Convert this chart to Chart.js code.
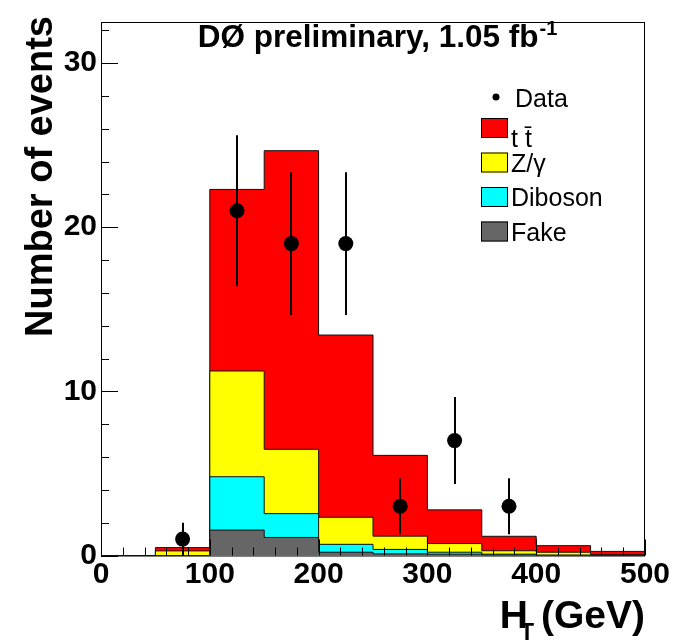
<!DOCTYPE html>
<html>
<head>
<meta charset="utf-8">
<script src="https://cdn.jsdelivr.net/npm/chart.js@4.4.1/dist/chart.umd.min.js"></script>
<style>
  html, body { margin: 0; padding: 0; background: #fff; }
  #wrap { width: 683px; height: 641px; }
</style>
</head>
<body>
<div id="wrap"><canvas id="htChart" width="683" height="641"></canvas></div>
<script>
// ── H_T distribution, 50 GeV bins ─────────────────────────────────────────
const binEdges = [0, 50, 100, 150, 200, 250, 300, 350, 400, 450, 500];

// expected events per bin, per process
const fake    = [0, 0,    1.55,  1.10,  0.20, 0.10, 0.08, 0.03, 0,    0];
const diboson = [0, 0,    3.25,  1.45,  0.48, 0.27, 0.12, 0.05, 0.03, 0.01];
const zgamma  = [0, 0.28, 6.44,  3.92,  1.65, 0.81, 0.53, 0.21, 0.17, 0.04];
const ttbar   = [0, 0.20, 11.06, 18.19, 11.10, 4.92, 2.05, 0.88, 0.40, 0.20];

// observed events (non-empty bins) and their errors
const dataX   = [75, 125, 175, 225, 275, 325, 375];
const dataY   = [1, 21, 19, 19, 3, 7, 3];
const dataErr = [1.0, 4.6, 4.35, 4.35, 1.7, 2.65, 1.7];

const xTickValues = [0, 100, 200, 300, 400, 500];
const yTickValues = [0, 10, 20, 30];

const FONT = "'Liberation Sans', Arial, Helvetica, sans-serif";

// running totals, bottom layer first
function stackUp(layers) {
  const out = [];
  let run = layers[0].map(() => 0);
  layers.forEach(l => { run = run.map((v, i) => v + l[i]); out.push(run); });
  return out;
}
const [cFake, cDib, cZ, cTot] = stackUp([fake, diboson, zgamma, ttbar]);

function stepPoints(vals) {
  const pts = vals.map((v, i) => ({ x: binEdges[i], y: v }));
  pts.push({ x: binEdges[binEdges.length - 1], y: 0 });
  return pts;
}

const histo = (label, vals, color) => ({
  label, data: stepPoints(vals), stepped: true, tension: 0,
  borderColor: '#111', borderWidth: 1, backgroundColor: color, fill: 'origin',
  pointRadius: 0, pointHoverRadius: 0
});

// ── plugins ───────────────────────────────────────────────────────────────

const errorBars = {
  id: 'errorBars',
  beforeDatasetDraw(chart, args) {
    if (args.index !== 0) return;
    const { ctx, scales: { x, y } } = chart;
    ctx.save();
    ctx.strokeStyle = '#000'; ctx.lineWidth = 2;
    dataX.forEach((v, i) => {
      const px = Math.round(x.getPixelForValue(v));
      ctx.beginPath();
      ctx.moveTo(px, y.getPixelForValue(Math.max(0, dataY[i] - dataErr[i])));
      ctx.lineTo(px, y.getPixelForValue(dataY[i] + dataErr[i]));
      ctx.stroke();
    });
    ctx.restore();
  }
};

const frame = {
  id: 'frame',
  afterDatasetsDraw(chart) {
    const { ctx, chartArea: a, scales: { x, y } } = chart;
    ctx.save();
    ctx.strokeStyle = '#000'; ctx.lineWidth = 1;
    ctx.strokeRect(a.left + 0.5, a.top + 0.5, a.right - a.left - 1, a.bottom - a.top);
    ctx.beginPath();
    for (let v = 0; v <= 500; v += 20) {
      const px = Math.round(x.getPixelForValue(v)) + 0.5;
      const len = v % 100 === 0 ? 16 : 8;
      ctx.moveTo(px, a.bottom); ctx.lineTo(px, a.bottom - len);
    }
    for (let v = 0; v <= 32; v += 2) {
      const py = Math.round(y.getPixelForValue(v)) + 0.5;
      const len = v % 10 === 0 ? 17 : 8;
      ctx.moveTo(a.left, py); ctx.lineTo(a.left + len, py);
    }
    ctx.stroke();
    ctx.restore();
  }
};

const decorations = {
  id: 'decorations',
  afterDraw(chart) {
    const { ctx, chartArea: a } = chart;
    const ds = chart.data.datasets;
    ctx.save();
    ctx.fillStyle = '#000';
    ctx.textBaseline = 'alphabetic';

    // title
    const main = 'D\u00D8 preliminary, 1.05 fb', sup = '-1';
    ctx.font = `bold 31.5px ${FONT}`;
    const wMain = ctx.measureText(main).width;
    ctx.font = `bold 20px ${FONT}`;
    const wSup = ctx.measureText(sup).width;
    let tx = 377 - (wMain + wSup) / 2;
    ctx.font = `bold 31.5px ${FONT}`;
    ctx.fillText(main, tx, 47);
    ctx.font = `bold 20px ${FONT}`;
    ctx.fillText(sup, tx + wMain + 1, 35);

    // y title, aligned to the top of the axis
    ctx.save();
    ctx.translate(52, a.top - 6);
    ctx.rotate(-Math.PI / 2);
    ctx.font = `bold 38px ${FONT}`;
    ctx.textAlign = 'right';
    ctx.fillText('Number of events', 0, 0);
    ctx.restore();

    // x title, aligned to the right end of the axis
    ctx.font = `bold 39px ${FONT}`;
    const wGev = ctx.measureText('(GeV)').width;
    const wH = ctx.measureText('H').width;
    ctx.font = `bold 23px ${FONT}`;
    const wT = ctx.measureText('T').width;
    const gevX = a.right - wGev;
    const tX = gevX - 7 - wT;
    const hX = tX + 8 - wH;
    ctx.font = `bold 39px ${FONT}`;
    ctx.fillText('H', hX, 628);
    ctx.fillText('(GeV)', gevX, 628);
    ctx.font = `bold 23px ${FONT}`;
    ctx.fillText('T', tX, 640);

    // legend
    ctx.font = `25px ${FONT}`;
    ctx.beginPath();
    ctx.arc(496, 97, 3.5, 0, Math.PI * 2);
    ctx.fill();
    ctx.fillText(ds[0].label, 515, 107);
    [4, 3, 2, 1].forEach((k, i) => {
      const cy = 128 + 34.5 * i;
      ctx.fillStyle = ds[k].backgroundColor;
      ctx.fillRect(481, cy - 10, 27, 20);
      ctx.strokeStyle = '#000'; ctx.lineWidth = 1;
      ctx.strokeRect(481.5, cy - 9.5, 26, 19);
      ctx.fillStyle = '#000';
      const drop = ds[k].label.includes('\u0304') ? 19 : 9;
      ctx.fillText(ds[k].label, 511, cy + drop);
    });
    ctx.restore();
  }
};

// ── chart ─────────────────────────────────────────────────────────────────

new Chart(document.getElementById('htChart'), {
  type: 'line',
  plugins: [errorBars, frame, decorations],
  data: {
    datasets: [
      { label: 'Data', data: dataX.map((x, i) => ({ x, y: dataY[i] })), showLine: false,
        pointRadius: 7.5, pointHoverRadius: 7.5, pointBackgroundColor: '#000',
        pointBorderColor: '#000', pointBorderWidth: 0 },
      histo('Fake',    cFake, '#666666'),
      histo('Diboson', cDib,  '#00ffff'),
      histo('Z/\u03B3', cZ,   '#ffff00'),
      histo('t t\u0304', cTot, '#ff0000')
    ]
  },
  options: {
    responsive: false, animation: false, events: [],
    layout: { padding: { top: 11, right: 38, left: 0, bottom: 0 } },
    plugins: { legend: { display: false }, tooltip: { enabled: false }, title: { display: false } },
    scales: {
      x: { type: 'linear', min: 0, max: 500,
           afterBuildTicks: s => { s.ticks = xTickValues.map(v => ({ value: v })); },
           afterFit: s => { s.height = 85.5; },
           ticks: { color: '#000', font: { family: FONT, size: 30, weight: 'bold' },
                    padding: 1, maxRotation: 0, autoSkip: false },
           grid: { display: false, drawTicks: false }, border: { display: false } },
      y: { type: 'linear', min: 0, max: 32.5,
           afterBuildTicks: s => { s.ticks = yTickValues.map(v => ({ value: v })); },
           afterFit: s => { s.width = 101; },
           ticks: { color: '#000', font: { family: FONT, size: 30, weight: 'bold' }, padding: 4 },
           grid: { display: false, drawTicks: false }, border: { display: false } }
    }
  }
});
</script>
</body>
</html>
